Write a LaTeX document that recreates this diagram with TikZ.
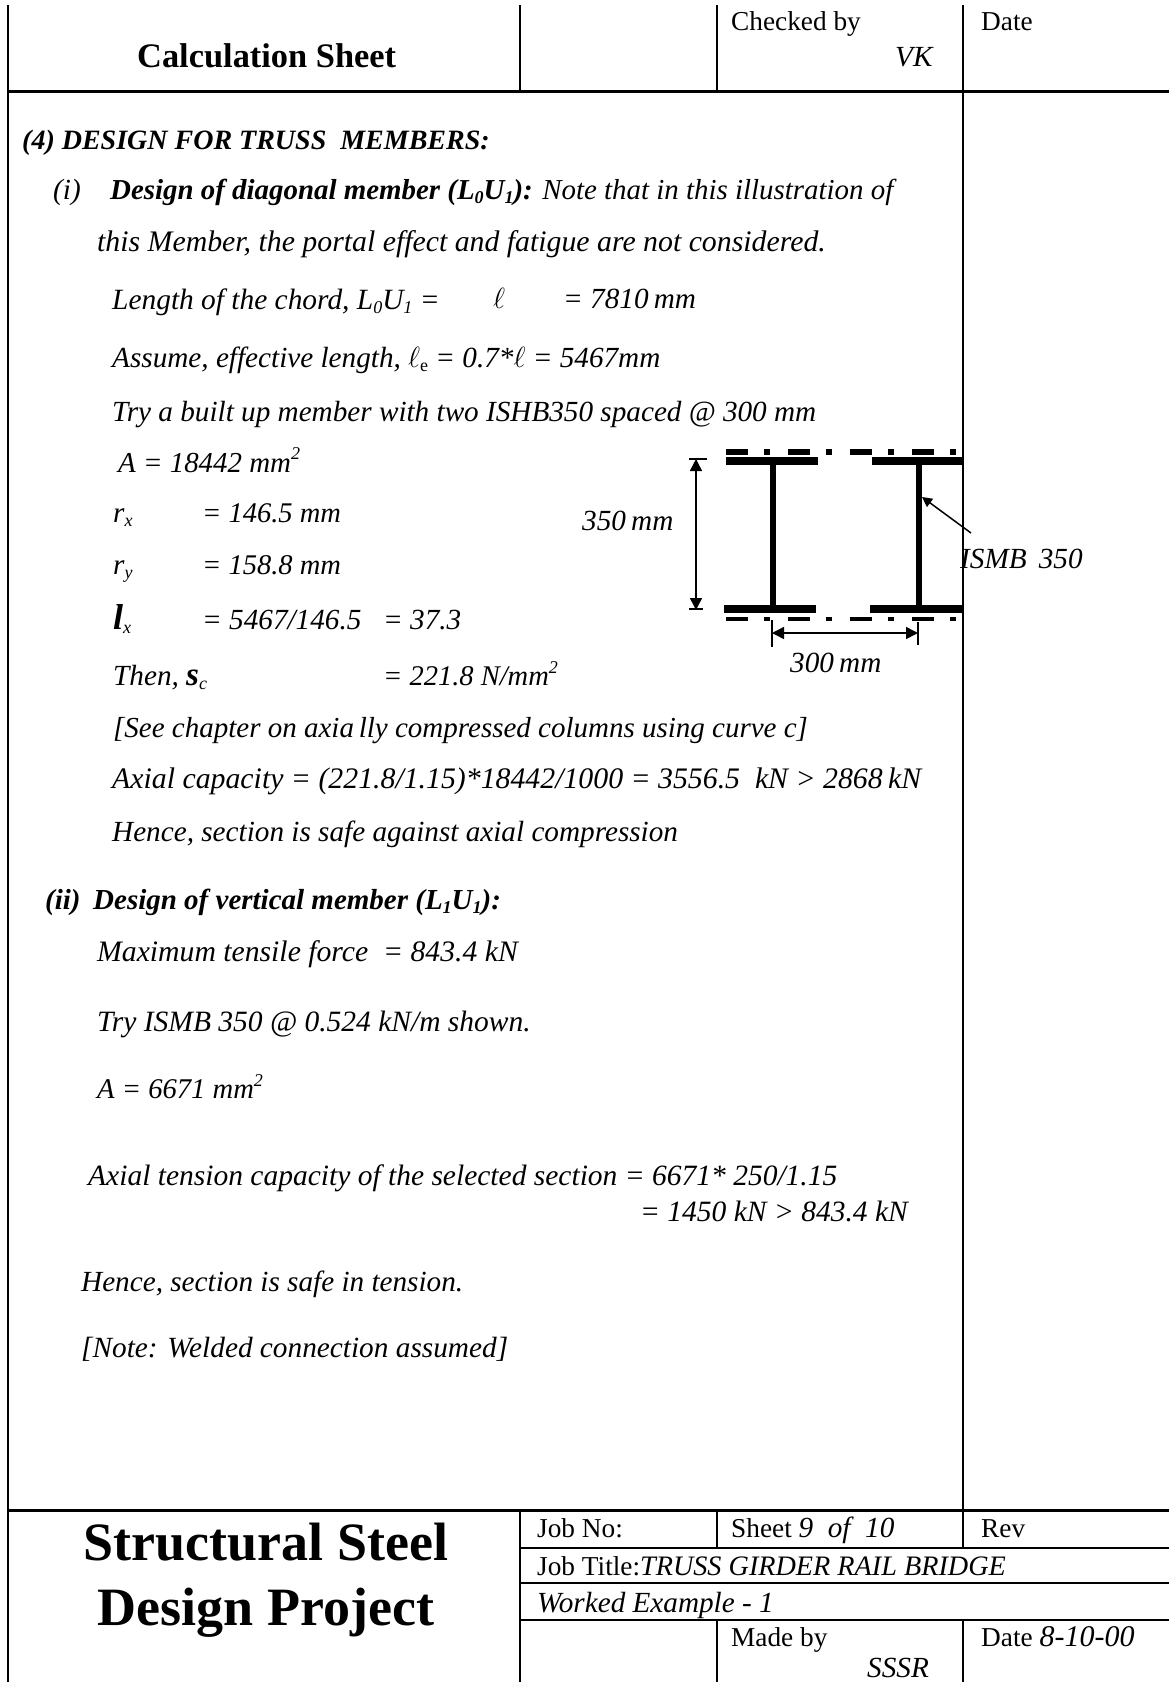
\documentclass[tikz,border=0pt]{standalone}
\usepackage{fix-cm}
\usepackage{fontspec}
\setmainfont{Liberation Serif}
\usetikzlibrary{arrows.meta, positioning, calc}
\newcommand{\lowtxt}[1]{\raisebox{-0.14em}{\fontsize{18}{18}\selectfont #1}}
\newcommand{\hightxt}[1]{\raisebox{0.42em}{\fontsize{18}{18}\selectfont #1}}
\newcommand{\tinygap}{\hspace{0.18em}}

\begin{document}
\begin{tikzpicture}[
        x=1pt, y=-1pt,
        every node/.style={inner sep=0pt, anchor=base west},
        plain/.style={font=\fontsize{27.3}{30}\selectfont},
        body/.style={font=\fontsize{29.2}{31}\selectfont\itshape},
        bodyat/.style={font=\fontsize{#1}{31}\selectfont\itshape},
        heavy/.style={font=\fontsize{29}{31}\selectfont\bfseries\itshape},
        rule/.style={line width=2pt},
        mainrule/.style={line width=3pt},
        dimline/.style={line width=1.5pt, {Triangle[length=12pt,width=12pt]}-{Triangle[length=12pt,width=12pt]}},
        steel/.style={fill=black, draw=none}
    ]
        \useasboundingbox (0,0) rectangle (1169,1682);

        % sheet frame
        \draw[rule] (8,5) -- (8,1682);
        \draw[rule] (963,5) -- (963,1510);
        \draw[rule] (520,5) -- (520,91);
        \draw[rule] (717,5) -- (717,91);
        \draw[mainrule] (8,91) -- (1169,91);
        \draw[mainrule] (8,1510) -- (1169,1510);
        \draw[rule] (520,1510) -- (520,1682);
        \draw[rule] (717,1510) -- (717,1548);
        \draw[rule] (963,1510) -- (963,1548);
        \draw[rule] (717,1620) -- (717,1682);
        \draw[rule] (963,1620) -- (963,1682);
        \draw[rule] (520,1548) -- (1169,1548);
        \draw[rule] (520,1583) -- (1169,1583);
        \draw[rule] (520,1620) -- (1169,1620);

        % head of sheet
        \node[font=\fontsize{34.4}{37}\selectfont\bfseries] (calcsheet) at (137,67) {Calculation Sheet};
        \node[plain] (checked) at (731,30) {Checked by};
        \node[body] (checker) at (895,66) {VK};
        \node[plain] (datetop) at (981,30) {Date};

        % text of the calculation
        \node[font=\fontsize{28}{31}\selectfont\bfseries\itshape] (heading) at (22,149) {(4) DESIGN FOR TRUSS\ \ MEMBERS:};
        \node[body] (numone) at (53,199) {(i)};
        \node[bodyat=28.9] (diagonal) at (110,199) {\textbf{Design of diagonal member (L\lowtxt{0}U\lowtxt{1}):} Note that in this illustration of};
        \node[bodyat=29.8] (memberline) at (97,251) {this Member, the portal effect and fatigue are not considered.};
        \node[bodyat=29.4] (chord) at (112,309) {Length of the chord, L\lowtxt{0}U\lowtxt{1} =};
        \node[body] (chordell) at (493,308) {$\ell$};
        \node[body] (chordval) at (563,308) {= 7810\tinygap mm};
        \node[body] (efflen) at (112,367) {Assume, effective length, $\ell$\lowtxt{\upshape e} = 0.7*$\ell$ = 5467mm};
        \node[body] (trybuilt) at (112,421) {Try a built up member with two ISHB350 spaced @ 300 mm};
        \node[bodyat=28.9] (areaone) at (118,472) {A = 18442 mm\hightxt{2}};
        \node[body] (rxsym) at (113,522) {r\lowtxt{x}};
        \node[bodyat=28.5] (rxval) at (202,522) {= 146.5 mm};
        \node[body] (rysym) at (113,574) {r\lowtxt{y}};
        \node[bodyat=28.5] (ryval) at (202,574) {= 158.8 mm};
        \node[body] (lamsym) at (113,629) {{\fontsize{36}{36}\selectfont\bfseries l}\lowtxt{x}};
        \node[body] (lamval) at (202,629) {= 5467/146.5};
        \node[body] (lamres) at (383,629) {= 37.3};
        \node[body] (thensig) at (113,685) {Then, {\fontsize{33}{33}\selectfont\bfseries s}\lowtxt{c}};
        \node[bodyat=28.5] (sigval) at (383,685) {= 221.8 N/mm\hightxt{2}};
        \node[bodyat=29] (seechap) at (113,737) {[See chapter on axia\,lly compressed columns using curve c]};
        \node[bodyat=29.8] (axialcap) at (112,788) {Axial capacity = (221.8/1.15)*18442/1000 = 3556.5\ \ kN > 2868\tinygap kN};
        \node[body] (safeaxial) at (112,841) {Hence, section is safe against axial compression};
        \node[heavy] (numtwo) at (45,909) {(ii)};
        \node[heavy] (vertical) at (93,909) {Design of vertical member (L\lowtxt{1}U\lowtxt{1}):};
        \node[bodyat=29.7] (maxforce) at (97,961) {Maximum tensile force\ \ = 843.4 kN};
        \node[bodyat=29.5] (tryismb) at (97,1031) {Try ISMB 350 @ 0.524 kN/m shown.};
        \node[bodyat=28.6] (areatwo) at (97,1098) {A = 6671 mm\hightxt{2}};
        \node[bodyat=29.5] (tension) at (88,1185) {Axial tension capacity of the selected section = 6671* 250/1.15};
        \node[bodyat=29.5] (tensionval) at (640,1221) {= 1450 kN > 843.4 kN};
        \node[body] (safetens) at (81,1291) {Hence, section is safe in tension.};
        \node[bodyat=29.3] (weldnote) at (81,1357) {[Note: Welded connection assumed]};

        % built up section
        \foreach \shift in {0,62,124,186} {
            \fill[steel] (726+\shift,449) rectangle ++(22,6);
            \fill[steel] (764+\shift,449) rectangle ++(6,6);
            \fill[steel] (726+\shift,617) rectangle ++(22,4);
            \fill[steel] (764+\shift,617) rectangle ++(6,4);
        }
        \fill[steel] (726,457) rectangle (818,465);
        \fill[steel] (872,457) rectangle (963,465);
        \fill[steel] (770,465) rectangle (776,605);
        \fill[steel] (916,465) rectangle (922,605);
        \fill[steel] (724,605) rectangle (816,613);
        \fill[steel] (870,605) rectangle (963,613);

        % dimensions
        \coordinate (deptop) at (696,459);
        \coordinate (depbot) at (696,610);
        \coordinate (gapleft) at (772,633);
        \coordinate (gapright) at (918,633);
        \coordinate (webpoint) at (922,497);
        \draw[dimline] (deptop) -- (depbot);
        \draw[line width=1.5pt] (689,459) -- (707,459);
        \draw[line width=1.5pt] (689,609) -- (703,609);
        \draw[dimline] (gapleft) -- (gapright);
        \draw[line width=1.5pt] (772,620) -- (772,647);
        \draw[line width=1.5pt] (918,622) -- (918,645);
        \node[body] (depthlabel) at (582,530) {350\tinygap mm};
        \node[body] (gaplabel) at (790,672) {300\tinygap mm};
        \node[body] (ismblabel) at (960,568) {ISMB\ \,350};
        \coordinate (leaderfoot) at (971,533);
        \draw[line width=1.5pt, -{Triangle[length=10pt,width=10pt]}] (leaderfoot) -- (webpoint);

        % title block
        \node[font=\fontsize{54}{60}\selectfont\bfseries, anchor=base] (titleone) at (266,1560) {Structural Steel};
        \node[font=\fontsize{54}{60}\selectfont\bfseries, anchor=base] (titletwo) at (266,1625) {Design Project};
        \node[plain] (jobno) at (537,1537) {Job No:};
        \node[plain] (sheetno) at (731,1537) {Sheet {\fontsize{29.2}{31}\selectfont\itshape 9\ \ of\ \ 10}};
        \node[plain] (rev) at (981,1537) {Rev};
        \node[plain] (jobtitle) at (537,1575) {Job Title:{\fontsize{28.2}{31}\selectfont\itshape TRUSS GIRDER RAIL BRIDGE}};
        \node[body] (worked) at (537,1612) {Worked Example - 1};
        \node[plain] (madeby) at (731,1646) {Made by};
        \node[plain] (datebot) at (981,1646) {Date {\fontsize{30}{31}\selectfont\itshape 8-10-00}};
        \node[body] (maker) at (867,1677) {SSSR};
    \end{tikzpicture}
\end{document}
